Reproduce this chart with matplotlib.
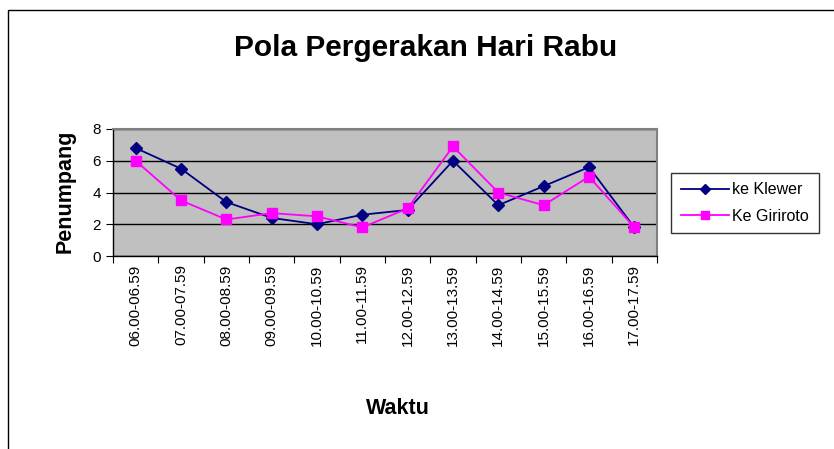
import matplotlib.pyplot as plt
import numpy as np
from matplotlib.patches import Rectangle

plt.rcParams["font.family"] = ["Liberation Sans", "DejaVu Sans"]

waktu = ["06.00-06.59", "07.00-07.59", "08.00-08.59", "09.00-09.59",
         "10.00-10.59", "11.00-11.59", "12.00-12.59", "13.00-13.59",
         "14.00-14.59", "15.00-15.59", "16.00-16.59", "17.00-17.59"]
ke_klewer = [6.8, 5.5, 3.4, 2.4, 2.0, 2.6, 2.9, 6.0, 3.2, 4.4, 5.6, 1.8]
ke_giriroto = [6.0, 3.5, 2.3, 2.7, 2.5, 1.8, 3.0, 6.9, 4.0, 3.2, 5.0, 1.8]

fig = plt.figure(figsize=(8.34, 4.49), dpi=100)
fig.patch.set_facecolor("white")
# outer chart border
fig.patches.append(Rectangle((8 / 834, -0.05), 1.0, (449 - 10) / 449 + 0.05,
                             transform=fig.transFigure, fill=False,
                             edgecolor="black", linewidth=1.0))

ax = fig.add_axes([113 / 834, (449 - 256) / 449, 544 / 834, 127 / 449])
ax.set_facecolor("#C0C0C0")
x = np.arange(len(waktu))

ax.plot(x, ke_klewer, color="#000080", marker="D", markersize=6,
        linewidth=1.3, label="ke Klewer", zorder=3)
ax.plot(x, ke_giriroto, color="#FF00FF", marker="s", markersize=7,
        linewidth=1.3, label="Ke Giriroto", zorder=3)

ax.set_xlim(-0.5, len(waktu) - 0.5)
ax.set_ylim(0, 8)
ax.set_yticks([0, 2, 4, 6, 8])
ax.yaxis.grid(True, color="black", linewidth=1.0)
ax.set_axisbelow(True)

ax.set_xticks(np.arange(-0.5, len(waktu), 1.0))
ax.set_xticklabels([])
ax.set_xticks(x, minor=True)
ax.set_xticklabels(waktu, minor=True, rotation=90, fontsize=11)
ax.tick_params(axis="x", which="minor", length=0, pad=6)
ax.tick_params(axis="x", which="major", length=5, direction="out", color="black")
ax.tick_params(axis="y", length=5, direction="out", labelsize=11, color="black")

for side in ["top", "right"]:
    ax.spines[side].set_color("#808080")
    ax.spines[side].set_linewidth(1.5)
for side in ["left", "bottom"]:
    ax.spines[side].set_color("black")
    ax.spines[side].set_linewidth(1.0)

fig.text(65 / 834, 1 - 191 / 449, "Penumpang", fontsize=15.5, fontweight="bold",
         rotation=90, ha="center", va="center")
fig.text(398 / 834, 1 - 408 / 449, "Waktu", fontsize=15.5, fontweight="bold",
         ha="center", va="center")
fig.text(426 / 834, 1 - 48 / 449, "Pola Pergerakan Hari Rabu", fontsize=21.5,
         fontweight="bold", ha="center", va="center")

leg = fig.legend(loc="center", bbox_to_anchor=(745 / 834, 1 - 203 / 449),
                 fontsize=11.5, frameon=True, fancybox=False, handlelength=3.0,
                 borderpad=0.6, labelspacing=0.7, handletextpad=0.2,
                 markerscale=0.85)
leg.get_frame().set_edgecolor("black")
leg.get_frame().set_linewidth(1.0)

fig.savefig("out.png", dpi=100)
